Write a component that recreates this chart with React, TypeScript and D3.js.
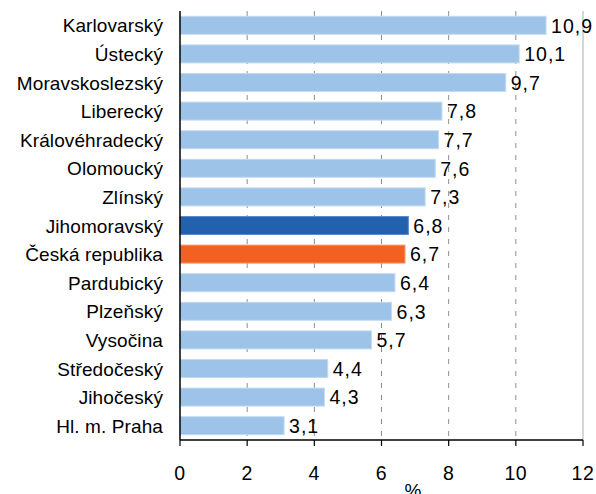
import React from "react";
import * as d3 from "d3";

const categories = [
  "Karlovarský",
  "Ústecký",
  "Moravskoslezský",
  "Liberecký",
  "Královéhradecký",
  "Olomoucký",
  "Zlínský",
  "Jihomoravský",
  "Česká republika",
  "Pardubický",
  "Plzeňský",
  "Vysočina",
  "Středočeský",
  "Jihočeský",
  "Hl. m. Praha",
];
const values = [10.9, 10.1, 9.7, 7.8, 7.7, 7.6, 7.3, 6.8, 6.7, 6.4, 6.3, 5.7, 4.4, 4.3, 3.1];
const xTicks = [0, 2, 4, 6, 8, 10, 12];
const axisTitle = "%";

const W = 596;
const H = 494;
const left = 180;
const right = 583;
const top = 11;
const bottom = 440;
const FONT = "Arial, 'Liberation Sans', sans-serif";

function barColor(c: string) {
  if (c === "Jihomoravský") return "#2161ad";
  if (c === "Česká republika") return "#f26122";
  return "#9dc3e8";
}
function barStroke(c: string) {
  if (c === "Jihomoravský") return "#5a8ccc";
  if (c === "Česká republika") return "#f79a6e";
  return "#c2dbf2";
}

export default function App() {
  const x = d3.scaleLinear().domain([0, 12]).range([left, right]);
  const y = d3.scaleBand<string>().domain(categories).range([top, bottom]).paddingInner(0.37).paddingOuter(0.185);
  const fmt = (v: number) => v.toFixed(1).replace(".", ",");
  return (
    <svg width={W} height={H} style={{ position: "absolute", left: 0, top: 0, background: "#fff" }}>
      {/* right border */}
      <line x1={right} x2={right} y1={top} y2={bottom} stroke="#c8c8c8" strokeWidth={1.5} />
      {/* grid */}
      {xTicks.filter((t) => t > 0 && t < 12).map((t) => (
        <line key={t} x1={x(t)} x2={x(t)} y1={top} y2={bottom} stroke="#8c8c8c" strokeWidth={1} strokeDasharray="5,7" />
      ))}
      {/* bars */}
      {categories.map((c, i) => (
        <g key={c}>
          <rect
            x={x(0)}
            y={y(c)!}
            width={x(values[i]) - x(0)}
            height={y.bandwidth()}
            fill={barColor(c)}
            stroke={barStroke(c)}
            strokeWidth={1}
          />
          <text
            x={x(values[i]) + 5}
            y={y(c)! + y.bandwidth() / 2}
            dy="0.37em"
            fontFamily={FONT}
            fontSize={19.5}
            letterSpacing={1}
            fill="#000"
          >
            {fmt(values[i])}
          </text>
          <text
            x={163}
            y={y(c)! + y.bandwidth() / 2}
            dy="0.37em"
            textAnchor="end"
            fontFamily={FONT}
            fontSize={19}
            letterSpacing={0.1}
            fill="#000"
          >
            {c}
          </text>
        </g>
      ))}
      {/* axes */}
      <line x1={left} x2={left} y1={top} y2={bottom} stroke="#000" strokeWidth={1.5} />
      <line x1={left} x2={right} y1={bottom} y2={bottom} stroke="#000" strokeWidth={1.5} />
      {xTicks.map((t) => (
        <g key={t}>
          <line x1={x(t)} x2={x(t)} y1={bottom} y2={bottom + 6} stroke="#000" strokeWidth={1.2} />
          <text x={x(t)} y={473} dy="0.37em" textAnchor="middle" fontFamily={FONT} fontSize={19.5} letterSpacing={0.6}>
            {t}
          </text>
        </g>
      ))}
      <text x={413} y={497} textAnchor="middle" fontFamily={FONT} fontSize={19}>
        {axisTitle}
      </text>
    </svg>
  );
}
